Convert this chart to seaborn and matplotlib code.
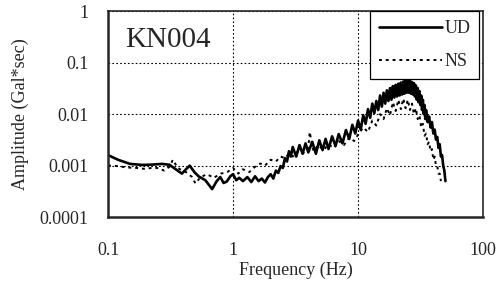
import numpy as np
import pandas as pd
import matplotlib
matplotlib.use("Agg")
import matplotlib.pyplot as plt
import seaborn as sns

# values (log-log spectrum)
ud_freq = [0.10, 0.12, 0.15, 0.19, 0.23, 0.27, 0.31, 0.36, 0.39, 0.42, 0.45, 0.49,
           0.53, 0.60, 0.68, 0.74, 0.79, 0.84, 0.89, 0.95, 1.00, 1.06, 1.12, 1.2,
           1.3, 1.4, 1.5, 1.6, 1.7, 1.8, 1.9, 2.0, 2.1, 2.2, 2.3, 2.4, 2.5, 2.6,
           2.7, 2.8, 2.9, 3.0, 3.2, 3.4, 3.6, 3.8, 4.0, 4.3, 4.6, 4.9, 5.2, 5.5,
           5.8, 6.2, 6.6, 7.0, 7.5, 8.0, 8.5, 9.0, 9.5,
           10, 10.5, 11, 11.5, 12, 12.5, 13, 13.5, 14, 14.5, 15, 15.5, 16, 16.5,
           17, 17.5, 18, 18.5, 19, 19.5, 20, 20.5, 21, 21.5, 22, 22.5, 23, 23.5,
           24, 24.5, 25, 25.5, 26, 26.5, 27, 27.5, 28, 28.5, 29, 29.5, 30, 30.5,
           31, 31.5, 32, 32.5, 33, 33.5, 34, 34.5, 35, 36, 37, 38, 39, 40, 41,
           42, 43, 44, 45, 46, 47, 48, 49, 50]
ud_amp = [0.0016, 0.0013, 0.00108, 0.00103, 0.00105, 0.00108, 0.00104, 0.00080,
          0.00070, 0.00085, 0.00100, 0.00075, 0.00062, 0.00052, 0.00035, 0.00050,
          0.00060, 0.00046, 0.00049, 0.00062, 0.00068, 0.00052, 0.00058, 0.00050,
          0.00060, 0.00048, 0.00062, 0.00050, 0.00056, 0.00047, 0.00060, 0.00068,
          0.00056, 0.00080, 0.00072, 0.00098, 0.00090, 0.00140, 0.00120, 0.0019,
          0.0015, 0.0023, 0.0015, 0.0025, 0.0017, 0.0027, 0.0018, 0.0029, 0.0017,
          0.0031, 0.0020, 0.0033, 0.0021, 0.0037, 0.0024, 0.0041, 0.0027, 0.0049,
          0.0033, 0.0062, 0.0042,
          0.0075, 0.0050, 0.0095, 0.0065, 0.0125, 0.0085, 0.0160, 0.0105, 0.0180,
          0.0120, 0.0230, 0.0140, 0.0260, 0.0160, 0.0290, 0.0180, 0.0320, 0.0190,
          0.0350, 0.0210, 0.0370, 0.0220, 0.0390, 0.0230, 0.0410, 0.0240, 0.0430,
          0.0250, 0.0450, 0.0260, 0.0440, 0.0260, 0.0450, 0.0250, 0.0420, 0.0240,
          0.0400, 0.0220, 0.0360, 0.0190, 0.0320, 0.0170, 0.0280, 0.0150, 0.0230,
          0.0120, 0.0190, 0.0100, 0.0150, 0.0080, 0.0120, 0.0070, 0.0090, 0.0055,
          0.0070, 0.0042, 0.0050, 0.0032, 0.0036, 0.0022, 0.0026, 0.0015, 0.0016,
          0.0010, 0.0008, 0.0005]

ns_freq = [0.10, 0.12, 0.14, 0.17, 0.20, 0.23, 0.26, 0.28, 0.31, 0.33, 0.36, 0.42,
           0.47, 0.50, 0.55, 0.62, 0.70, 0.80, 0.90, 1.0, 1.1, 1.2, 1.35, 1.5,
           1.65, 1.8, 2.0, 2.2, 2.4, 2.6, 2.8, 3.0, 3.3, 3.6, 4.0, 4.1, 4.4, 4.8,
           5.3, 5.8, 6.4, 7.0, 7.7, 8.5, 9.3, 10, 11, 12, 13, 14, 15, 16, 17, 18,
           19, 20, 21, 22, 23, 24, 25, 26, 27, 28, 29, 30, 31, 32, 33, 34, 35, 36,
           37, 38, 39, 40, 41, 42, 43, 44, 45, 46]
ns_amp = [0.00100, 0.00098, 0.00092, 0.00090, 0.00086, 0.00092, 0.00088, 0.00080,
          0.00095, 0.00130, 0.00090, 0.00075, 0.00060, 0.00045, 0.00060, 0.00068,
          0.00058, 0.00070, 0.00075, 0.00090, 0.00070, 0.00085, 0.00075, 0.00095,
          0.0011, 0.0010, 0.0013, 0.0012, 0.0015, 0.0014, 0.0017, 0.0015, 0.0019,
          0.0017, 0.0022, 0.0045, 0.0019, 0.0025, 0.0020, 0.0026, 0.0022, 0.0030,
          0.0025, 0.0035, 0.0030, 0.0040, 0.0055, 0.0045, 0.0075, 0.0060, 0.0100,
          0.0080, 0.0130, 0.0095, 0.0170, 0.0115, 0.0190, 0.0125, 0.0200, 0.0130,
          0.0190, 0.0120, 0.0160, 0.0100, 0.0130, 0.0080, 0.0095, 0.0055, 0.0065,
          0.0038, 0.0042, 0.0026, 0.0029, 0.0019, 0.0021, 0.0013, 0.0015, 0.0010,
          0.0010, 0.0007, 0.0007, 0.0005]

x_ticks = [0.1, 1, 10, 100]
x_labels = ["0.1", "1", "10", "100"]
y_ticks = [0.0001, 0.001, 0.01, 0.1, 1]
y_labels = ["0.0001", "0.001", "0.01", "0.1", "1"]

sns.set_style("ticks")
plt.rcParams["font.family"] = ["Liberation Serif", "DejaVu Serif"]

fig = plt.figure(figsize=(4.98, 2.93), dpi=100)
ax = fig.add_axes([0.217, 0.259, 0.753, 0.703])

ud = pd.DataFrame({"f": ud_freq, "a": ud_amp})
ns = pd.DataFrame({"f": ns_freq, "a": ns_amp})
sns.lineplot(data=ud, x="f", y="a", ax=ax, color="black", lw=1.9,
             estimator=None, sort=False, label="UD")
sns.lineplot(data=ns, x="f", y="a", ax=ax, color="black", lw=1.4,
             linestyle=(0, (1.5, 2.0)), estimator=None, sort=False, label="NS")

ax.set_xscale("log")
ax.set_yscale("log")
ax.set_xlim(0.1, 100)
ax.set_ylim(0.0001, 1)
ax.set_xticks(x_ticks)
ax.set_xticklabels(x_labels)
ax.set_yticks(y_ticks)
ax.set_yticklabels(y_labels)
ax.minorticks_off()
ax.tick_params(axis="both", length=0, labelsize=13)
ax.tick_params(axis="x", pad=18)
ax.tick_params(axis="y", pad=14)
ax.grid(True, color="black", linestyle=(0, (1.5, 2)), lw=0.8)

for side in ["left", "bottom"]:
    ax.spines[side].set_linewidth(1.8)
for side in ["top", "right"]:
    ax.spines[side].set_linewidth(1.2)

ax.set_xlabel("Frequency (Hz)", fontsize=13, labelpad=2)
ax.set_ylabel("Amplitude (Gal*sec)", fontsize=13, labelpad=8)

ax.text(0.045, 0.86, "KN004", transform=ax.transAxes, fontsize=21, va="center")

leg = ax.legend(loc="upper right", bbox_to_anchor=(0.99, 1.0), fontsize=13,
                handlelength=3.5, handletextpad=0.1, borderpad=0.5,
                labelspacing=0.9, fancybox=False, framealpha=1,
                edgecolor="black", borderaxespad=0.0)
leg.get_frame().set_linewidth(0.9)

fig.savefig("out.png", dpi=100)
